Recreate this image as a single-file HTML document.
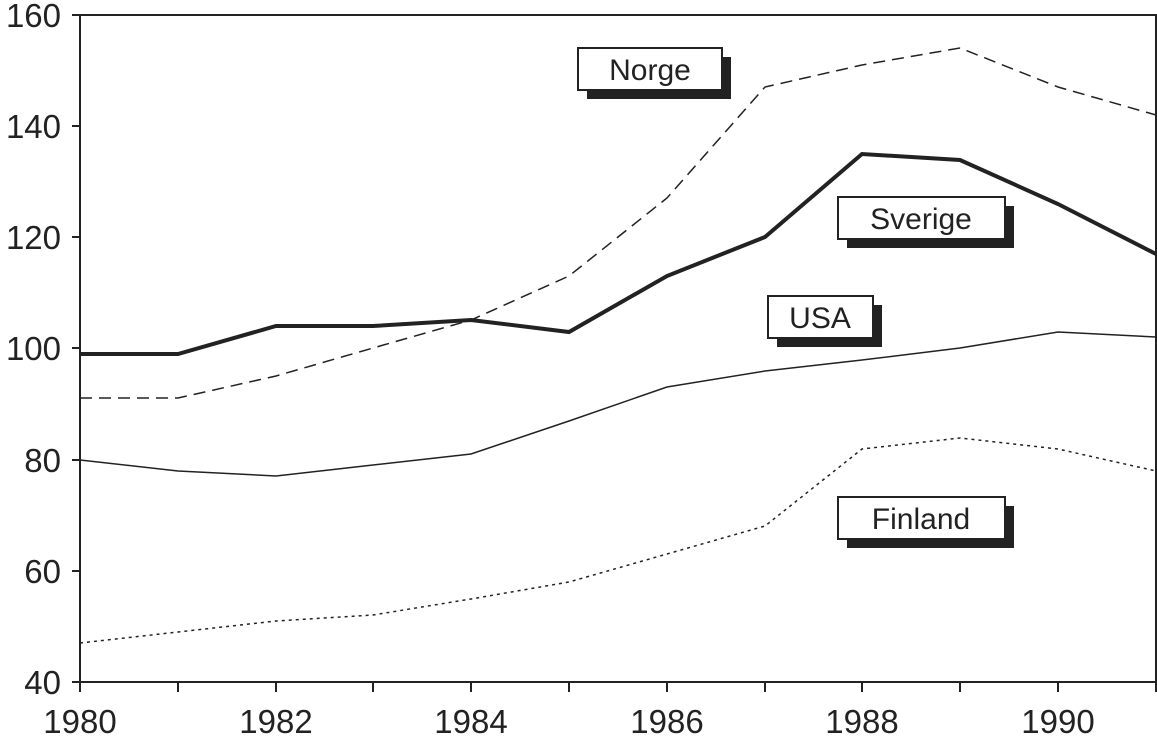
<!DOCTYPE html>
<html><head><meta charset="utf-8"><style>
html,body{margin:0;padding:0;background:#fff;}
svg{display:block;font-family:"Liberation Sans","DejaVu Sans",sans-serif;}
</style></head><body>
<svg width="1157" height="740" viewBox="0 0 1157 740" xmlns="http://www.w3.org/2000/svg">
<rect x="80" y="15" width="1076" height="667" fill="none" stroke="#222" stroke-width="2"/>
<g stroke="#222" stroke-width="2">
<line x1="72" y1="15" x2="80" y2="15"/><line x1="72" y1="126" x2="80" y2="126"/><line x1="72" y1="237" x2="80" y2="237"/><line x1="72" y1="348" x2="80" y2="348"/><line x1="72" y1="460" x2="80" y2="460"/><line x1="72" y1="571" x2="80" y2="571"/><line x1="72" y1="682" x2="80" y2="682"/>
<line x1="80" y1="682" x2="80" y2="692"/><line x1="178" y1="682" x2="178" y2="692"/><line x1="276" y1="682" x2="276" y2="692"/><line x1="373" y1="682" x2="373" y2="692"/><line x1="471" y1="682" x2="471" y2="692"/><line x1="569" y1="682" x2="569" y2="692"/><line x1="667" y1="682" x2="667" y2="692"/><line x1="765" y1="682" x2="765" y2="692"/><line x1="862" y1="682" x2="862" y2="692"/><line x1="960" y1="682" x2="960" y2="692"/><line x1="1058" y1="682" x2="1058" y2="692"/><line x1="1156" y1="682" x2="1156" y2="692"/>
</g>
<g font-size="33" fill="#222" text-anchor="end">
<text x="61" y="27">160</text><text x="61" y="138">140</text><text x="61" y="249">120</text><text x="61" y="360">100</text><text x="61" y="472">80</text><text x="61" y="583">60</text><text x="61" y="694">40</text>
</g>
<g font-size="33" fill="#222" text-anchor="middle">
<text x="80" y="733">1980</text><text x="276" y="733">1982</text><text x="471" y="733">1984</text><text x="667" y="733">1986</text><text x="862" y="733">1988</text><text x="1058" y="733">1990</text>
</g>
<g fill="none" stroke="#222">
<polyline stroke-width="1.5" stroke-dasharray="12,7" points="80,398 178,398 276,376 373,348 471,320 569,276 667,198 765,87 862,65 960,48 1058,87 1156,115"/>
<polyline stroke-width="4" points="80,354 178,354 276,326 373,326 471,320 569,332 667,276 765,237 862,154 960,160 1058,204 1156,254"/>
<polyline stroke-width="1.5" points="80,460 178,471 276,476 373,465 471,454 569,421 667,387 765,371 862,360 960,348 1058,332 1156,337"/>
<polyline stroke-width="1.5" stroke-dasharray="3,4" points="80,643 178,632 276,621 373,615 471,599 569,582 667,554 765,526 862,449 960,438 1058,449 1156,471"/>
</g>
<g font-size="30" fill="#222" text-anchor="middle">
<rect x="587" y="57" width="144" height="42" fill="#222"/><rect x="578" y="48" width="144" height="42" fill="#fff" stroke="#222" stroke-width="2"/><text x="650" y="80">Norge</text>
<rect x="847" y="206" width="167" height="42" fill="#222"/><rect x="838" y="197" width="167" height="42" fill="#fff" stroke="#222" stroke-width="2"/><text x="921" y="229">Sverige</text>
<rect x="777" y="305" width="105" height="42" fill="#222"/><rect x="768" y="296" width="105" height="42" fill="#fff" stroke="#222" stroke-width="2"/><text x="820" y="328">USA</text>
<rect x="847" y="506" width="167" height="42" fill="#222"/><rect x="838" y="497" width="167" height="42" fill="#fff" stroke="#222" stroke-width="2"/><text x="921" y="529">Finland</text>
</g>
</svg>
</body></html>
